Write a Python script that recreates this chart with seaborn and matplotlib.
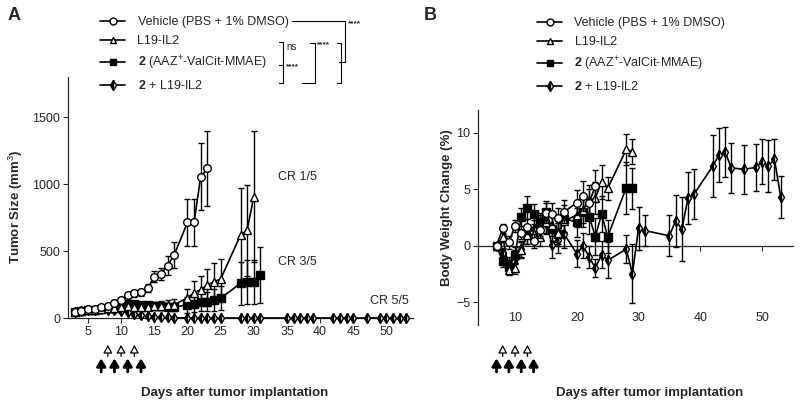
import matplotlib
matplotlib.use('Agg')
import matplotlib.pyplot as plt
import seaborn as sns
from matplotlib.lines import Line2D
from matplotlib.transforms import blended_transform_factory

# ---------------- Panel A: tumor size (mm^3), mean +/- SD ----------------
veh_a_days = [3, 4, 5, 6, 7, 8, 9, 10, 11, 12, 13, 14, 15, 16, 17, 18, 20, 21, 22, 23]
veh_a_mean = [47, 50, 65, 67, 80, 92, 114, 134, 172, 184, 192, 221, 308, 328, 392, 470, 714, 714, 1054, 1117]
veh_a_sd = [8, 8, 10, 10, 12, 15, 18, 20, 22, 25, 25, 30, 40, 45, 70, 100, 175, 175, 250, 280]

l19_a_days = [3, 4, 5, 6, 7, 8, 9, 10, 11, 12, 13, 14, 15, 16, 17, 18, 20, 21, 22, 23, 24, 25, 28, 29, 30]
l19_a_mean = [47, 50, 58, 62, 68, 72, 78, 82, 88, 85, 82, 84, 88, 92, 96, 100,
              150, 190, 210, 246, 272, 290, 619, 657, 905]
l19_a_sd = [8, 8, 10, 10, 12, 12, 15, 15, 18, 20, 22, 25, 30, 32, 35, 40,
            70, 90, 100, 120, 140, 150, 350, 340, 490]

drug_a_days = [3, 4, 5, 6, 7, 8, 9, 10, 11, 12, 13, 14, 15, 16, 17, 18, 20, 21, 22, 23, 24, 25, 28, 29, 30, 31]
drug_a_mean = [47, 50, 58, 62, 70, 78, 88, 95, 104, 103, 100, 96, 92, 88, 82, 80,
               100, 103, 122, 122, 134, 147, 259, 266, 266, 321]
drug_a_sd = [8, 8, 10, 10, 12, 14, 16, 18, 20, 22, 22, 22, 25, 25, 25, 28,
             60, 60, 70, 70, 80, 90, 160, 165, 165, 210]

combo_a_days = [3, 4, 5, 6, 7, 8, 9, 10, 11, 12, 13, 14, 15, 16, 17, 18, 20, 21, 22, 23, 24, 25,
                28, 29, 30, 31, 35, 36, 37, 38, 39, 42, 43, 44, 45, 47, 49, 50, 51, 52, 53]
combo_a_mean = [47, 50, 58, 62, 64, 62, 60, 56, 42, 28, 20, 14, 9, 6, 4, 3, 0, 0, 0, 0, 0, 0,
                0, 0, 0, 0, 0, 0, 0, 0, 0, 0, 0, 0, 0, 0, 0, 0, 0, 0, 0]
combo_a_sd = [8, 8, 10, 10, 12, 12, 14, 14, 12, 10, 8, 6, 5, 4, 3, 2, 0, 0, 0, 0, 0, 0,
              0, 0, 0, 0, 0, 0, 0, 0, 0, 0, 0, 0, 0, 0, 0, 0, 0, 0, 0]

# ---------------- Panel B: body weight change (%), mean +/- SD ----------------
veh_b_days = [7, 8, 9, 10, 11, 12, 13, 14, 15, 16, 17, 18, 20, 21, 22, 23]
veh_b_mean = [0, 1.56, 0.3, 1.76, 1.17, 1.7, 0.44, 1.41, 2.88, 2.82, 2.44, 3.02, 3.81, 4.4, 3.81, 5.28]
veh_b_sd = [0, 0.4, 0.6, 0.5, 0.6, 0.7, 0.6, 0.7, 0.9, 1.0, 0.9, 1.0, 1.1, 1.3, 1.2, 1.4]

l19_b_days = [7, 8, 9, 10, 11, 12, 13, 14, 15, 16, 17, 18, 20, 21, 22, 23, 24, 25, 28, 29]
l19_b_mean = [0, 0.8, -2.1, -2.0, -0.4, 0.97, 1.0, 0.82, 2.14, 1.8, 1.1, 2.2,
              2.73, 3.17, 4.05, 4.2, 5.66, 5.08, 8.51, 8.3]
l19_b_sd = [0, 0.5, 0.5, 0.5, 0.7, 0.8, 0.7, 0.8, 1.0, 0.9, 0.9, 1.0,
            1.1, 1.2, 1.3, 1.4, 1.5, 1.0, 1.4, 1.1]

drug_b_days = [7, 8, 9, 10, 11, 12, 13, 14, 15, 16, 17, 18, 20, 21, 22, 23, 24, 25, 28, 29]
drug_b_mean = [0, -1.38, -1.9, -0.8, 2.52, 3.37, 2.79, 2.14, 3.02, 1.5, 1.0, 2.4,
               2.08, 3.02, 2.58, 0.82, 2.79, 0.82, 5.13, 5.08]
drug_b_sd = [0, 0.5, 0.6, 0.7, 0.8, 1.0, 0.9, 0.8, 0.9, 1.1, 1.0, 1.2,
             1.3, 1.4, 1.5, 1.6, 1.6, 1.5, 2.3, 1.8]

combo_b_days = [7, 8, 9, 10, 11, 12, 13, 14, 15, 16, 17, 18, 20, 21, 22, 23, 24, 25,
                28, 29, 30, 31, 35, 36, 37, 38, 39, 42, 43, 44, 45, 47, 49, 50, 51, 52, 53]
combo_b_mean = [0, -0.6, -1.6, -1.0, -0.3, 1.0, 1.5, 1.8, 2.0, 0.1, 0.5, 1.0,
                -0.7, 0.0, -1.0, -1.96, -0.79, -1.29, -0.29, -2.46, 1.56, 1.35,
                0.88, 2.23, 1.47, 4.2, 4.58, 7.04, 8.01, 8.3, 6.9, 6.75, 6.93, 7.42, 7.07, 7.63, 4.34]
combo_b_sd = [0, 0.4, 0.6, 0.6, 0.7, 0.8, 0.8, 0.9, 1.0, 1.2, 1.1, 1.2,
              1.2, 1.1, 1.0, 0.8, 1.2, 1.6, 1.2, 2.6, 1.9, 1.4,
              1.8, 2.3, 2.8, 2.3, 2.2, 2.75, 2.4, 2.2, 2.2, 2.2, 2.1, 2.0, 2.3, 1.8, 1.85]

# treatment days (arrows under the x axis)
l19_dose_days = [8, 10, 12]
drug_dose_days = [7, 9, 11, 13]

labels = ['Vehicle (PBS + 1% DMSO)', 'L19-IL2',
          r'$\mathbf{2}$ (AAZ$^{+}$-ValCit-MMAE)', r'$\mathbf{2}$ + L19-IL2']

sns.set_theme(style='ticks')
plt.rcParams['font.family'] = ['Liberation Sans', 'DejaVu Sans']
plt.rcParams['mathtext.fontset'] = 'custom'
plt.rcParams['mathtext.rm'] = 'Liberation Sans'
plt.rcParams['mathtext.bf'] = 'Liberation Sans:bold'
plt.rcParams['mathtext.it'] = 'Liberation Sans:italic'
plt.rcParams['font.size'] = 9

W, H = 800, 411
fig = plt.figure(figsize=(8, 4.11), dpi=100)


def px(x, y):
    return x / W, 1 - y / H


def axes_px(left, top, right, bottom):
    return fig.add_axes([left / W, 1 - bottom / H, (right - left) / W, (bottom - top) / H])


axA = axes_px(68, 77, 413, 318)
axB = axes_px(478, 110, 793, 325)

styles = [dict(marker='o', mfc='white'),
          dict(marker='^', mfc='white'),
          dict(marker='s', mfc='black'),
          dict(marker='d', mfc='black', mfcalt='white', fillstyle='left')]


def draw_group(ax, days, mean, sd, st, z):
    ax.errorbar(days, mean, yerr=sd, color='black', mec='black', ms=5.5, lw=1.2,
                elinewidth=1.0, capsize=2.5, capthick=1.0, clip_on=False, zorder=z, **st)


groups_a = [(veh_a_days, veh_a_mean, veh_a_sd), (l19_a_days, l19_a_mean, l19_a_sd),
            (drug_a_days, drug_a_mean, drug_a_sd), (combo_a_days, combo_a_mean, combo_a_sd)]
groups_b = [(veh_b_days, veh_b_mean, veh_b_sd), (l19_b_days, l19_b_mean, l19_b_sd),
            (drug_b_days, drug_b_mean, drug_b_sd), (combo_b_days, combo_b_mean, combo_b_sd)]

for i in [3, 2, 1, 0]:
    draw_group(axA, *groups_a[i], styles[i], 6 - i)
    draw_group(axB, *groups_b[i], styles[i], 6 - i)

# legend handles: line + marker only (no error bar glyph)
handles = [Line2D([], [], color='black', lw=1.2, mec='black', ms=5, **st) for st in styles]

# ---- panel A axes ----
axA.set_xlim(2, 54)
axA.set_ylim(0, 1800)
axA.set_xticks([5, 10, 15, 20, 25, 30, 35, 40, 45, 50])
axA.set_yticks([0, 500, 1000, 1500])
sns.despine(ax=axA)
axA.set_ylabel('Tumor Size (mm$^{3}$)', fontweight='bold', fontsize=9.5)
axA.yaxis.set_label_coords(-0.125, 0.46)
axA.text(33.6, 1052, 'CR 1/5', fontsize=9, va='center')
axA.text(33.6, 418, 'CR 3/5', fontsize=9, va='center')
axA.text(47.5, 127, 'CR 5/5', fontsize=9, va='center')

# ---- panel B axes ----
axB.set_xlim(4, 55)
axB.set_ylim(-7, 12)
axB.set_yticks([-5, 0, 5, 10])
axB.set_xticks([10, 20, 30, 40, 50])
sns.despine(ax=axB)
axB.spines['bottom'].set_position(('data', 0))
axB.tick_params(axis='x', labelbottom=False)
sec = axB.secondary_xaxis(0.06)
sec.set_xticks([10, 20, 30, 40, 50])
sec.tick_params(length=0, labelsize=9, pad=0)
sec.spines['bottom'].set_visible(False)
axB.set_ylabel('Body Weight Change (%)', fontweight='bold', fontsize=9.5)
axB.yaxis.set_label_coords(-0.079, 0.544)

# x labels
fig.text(*px(235, 393), 'Days after tumor implantation', fontweight='bold', fontsize=9.5,
         ha='center', va='center')
fig.text(*px(650, 393), 'Days after tumor implantation', fontweight='bold', fontsize=9.5,
         ha='center', va='center')

for ax in (axA, axB):
    ax.tick_params(labelsize=9, length=3.5, width=0.8, pad=2)
    for s in ('left', 'bottom'):
        ax.spines[s].set_linewidth(0.9)

    # dosing arrows
    tr = blended_transform_factory(ax.transData, fig.transFigure)
    for d in l19_dose_days:
        ax.annotate('', xy=(d, 0.161), xytext=(d, 0.133), xycoords=tr, textcoords=tr,
                    annotation_clip=False,
                    arrowprops=dict(arrowstyle='-|>,head_length=0.55,head_width=0.3',
                                    fc='white', ec='black', lw=0.9, shrinkA=0, shrinkB=0))
    for d in drug_dose_days:
        ax.annotate('', xy=(d, 0.128), xytext=(d, 0.095), xycoords=tr, textcoords=tr,
                    annotation_clip=False,
                    arrowprops=dict(arrowstyle='-|>,head_length=0.5,head_width=0.3',
                                    fc='black', ec='black', lw=2.0, shrinkA=0, shrinkB=0))

# ---- legends ----
for ax, (lx, ly) in ((axA, (100, 16)), (axB, (537, 17))):
    ax.legend(handles, labels, loc='upper left', bbox_to_anchor=px(lx, ly), bbox_transform=fig.transFigure,
              frameon=False, fontsize=9, handlelength=2.0, handletextpad=1.0, labelspacing=0.56,
              borderpad=0, borderaxespad=0)


# ---- significance brackets (panel A) ----
def bracket(points):
    xs = [px(x, y)[0] for x, y in points]
    ys = [px(x, y)[1] for x, y in points]
    fig.add_artist(Line2D(xs, ys, color='black', lw=0.8))


bracket([(292, 21), (345, 21), (345, 62), (339, 62)])
bracket([(337, 43), (341, 43), (341, 83), (337, 83)])
bracket([(310, 43), (315, 43), (315, 83), (302, 83)])
bracket([(279, 42), (283, 42), (283, 83), (279, 83)])
bracket([(279, 65), (283, 65)])
fig.text(*px(348, 24), '****', fontsize=6, va='center', fontweight='bold')
fig.text(*px(317, 45), '****', fontsize=6, va='center', fontweight='bold')
fig.text(*px(286, 47), 'ns', fontsize=7, va='center')
fig.text(*px(286, 67), '****', fontsize=6, va='center', fontweight='bold')

fig.text(*px(8, 16), 'A', fontsize=13, fontweight='bold', va='center')
fig.text(*px(424, 16), 'B', fontsize=13, fontweight='bold', va='center')

fig.savefig('out.png', dpi=100)
